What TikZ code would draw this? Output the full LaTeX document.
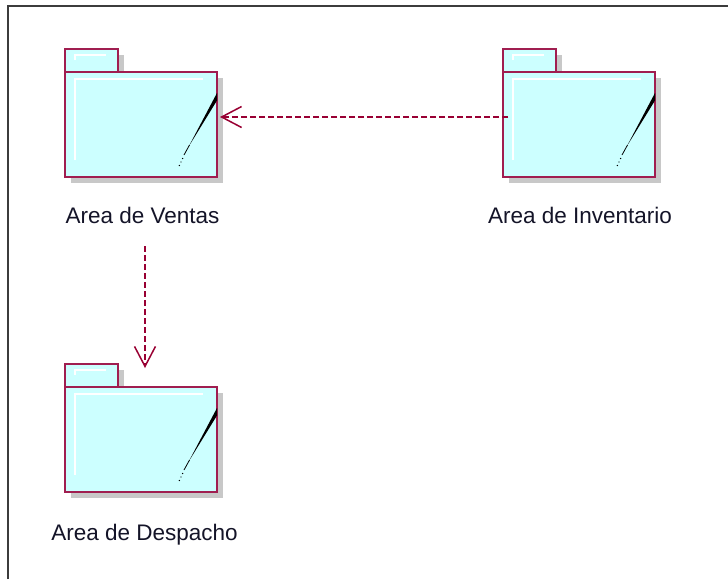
\documentclass[tikz,border=0pt]{standalone}
\usepackage{fontspec}
\setmainfont{Liberation Sans}
\usetikzlibrary{arrows.meta,shadows,calc}
\definecolor{pkgline}{RGB}{160,30,80}
\definecolor{depC}{RGB}{153,0,51}
\definecolor{pkgfill}{RGB}{204,255,255}
\definecolor{shadowC}{RGB}{200,200,200}
\definecolor{frameC}{RGB}{60,60,60}
\definecolor{txtC}{RGB}{20,20,40}
\newcommand\umlpkg[3]{%
  \node[pkgtab, anchor=south west] (#1tab) at (#2,#3) {};
  \node[pkgbody, anchor=north west] (#1) at (#1tab.south west) {};
  \draw[hl] ($(#1tab.north west)+(10,11)$) |- ($(#1tab.north west)+(41,6)$);
  \draw[hl] ($(#1.north west)+(10,88)$) |- ($(#1.north west)+(138,7)$);
  \begin{scope}[shift={(#1.north west)}]
    \fill[black] (149.3,26) -- (152,21) -- (152,28.5) -- (124,74) -- cycle;
    \draw[black, line width=0.8pt] (124.5,73) -- (119,83);
    \fill[black] (117.6,86.5) circle (0.7);
    \fill[black] (116,90) circle (0.7);
    \fill[black] (114.4,93.5) circle (0.7);
  \end{scope}
}
\begin{document}
\begin{tikzpicture}[x=1pt,y=-1pt,
  pkgtab/.style={draw=pkgline, line width=1.5pt, fill=pkgfill,
    minimum width=53pt, minimum height=23pt, inner sep=0pt, outer sep=0pt,
    drop shadow={shadow xshift=6pt, shadow yshift=-6pt, fill=shadowC, opacity=1}},
  pkgbody/.style={draw=pkgline, line width=1.5pt, fill=pkgfill,
    minimum width=152pt, minimum height=105pt, inner sep=0pt, outer sep=0pt,
    drop shadow={shadow xshift=6pt, shadow yshift=-6pt, fill=shadowC, opacity=1}},
  hl/.style={draw=white, line width=1.3pt},
  lbl/.style={text=txtC, font=\fontsize{22.5}{27}\selectfont, inner sep=0pt},
  dep/.style={draw=depC, line width=1.5pt, dash pattern=on 6pt off 3pt,
    -{Straight Barb[length=20pt,width=21pt,line width=1.5pt]}}]
\useasboundingbox (0,0) rectangle (728,579);
\fill[white] (0,0) rectangle (728,579);
\draw[frameC, line width=2pt] (8,579) -- (8,5.7) -- (728,5.7);

\umlpkg{ventas}{65}{72}
\umlpkg{inventario}{503}{72}
\umlpkg{despacho}{65}{387}

\node[lbl, anchor=base] (ventasL) at (142.5,223) {Area de Ventas};
\node[lbl, anchor=base] (inventarioL) at (580,223) {Area de Inventario};
\node[lbl, anchor=base] (despachoL) at (144.5,540) {Area de Despacho};

\draw[dep] ([xshift=5pt,yshift=7.5pt]inventario.west) -- ([xshift=3pt,yshift=7.5pt]ventas.east);
\coordinate (vstart) at (145,246);
\draw[dep] (vstart) -- ([xshift=4pt,yshift=19pt]despacho.north);
\end{tikzpicture}
\end{document}
